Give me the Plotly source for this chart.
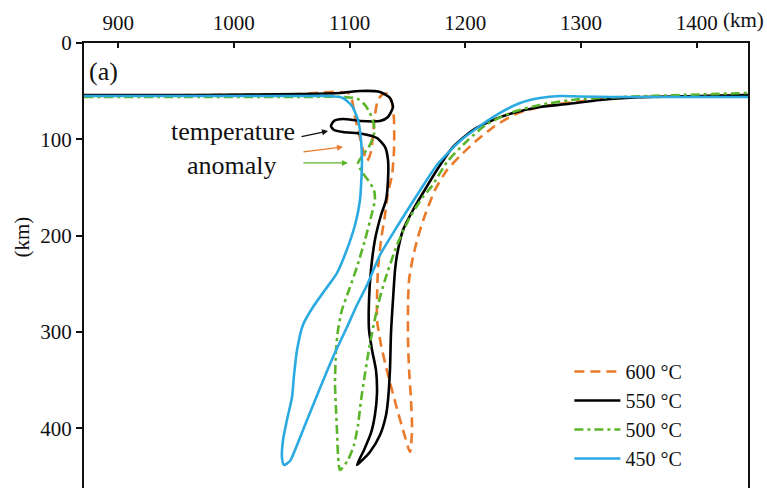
import plotly.graph_objects as go

# ---- data (x: horizontal distance in km, y: depth in km) ----
x_600 = [870.5, 970.7, 1057.2, 1083.1, 1098.6, 1102.1, 1103.8, 1107.3, 1111.6, 1115.1, 1118.5, 1120.2, 1121.9,
         1124.5, 1128.9, 1133.2, 1136.7, 1138.4, 1138.4, 1136.7, 1133.2, 1130.6, 1127.2, 1124.5, 1123.7, 1123.7,
         1127.2, 1133.2, 1140.1, 1146.2, 1152.2, 1154.0, 1153.1, 1151.4, 1150.5, 1150.5, 1151.4, 1154.8, 1159.1,
         1164.3, 1173.8, 1184.2, 1195.4, 1209.2, 1225.6, 1245.5, 1268.9, 1294.8, 1327.6, 1359.6, 1402.8, 1444.3]
y_600 = [55.0, 54.0, 52.9, 50.8, 51.9, 59.1, 71.6, 90.3, 111.0, 122.4, 113.1, 95.5, 74.7,
         59.1, 52.9, 52.9, 62.3, 79.9, 111.0, 137.0, 155.7, 178.5, 204.4, 235.5, 266.7, 287.4,
         313.4, 344.5, 375.7, 401.6, 424.4, 401.6, 370.5, 339.3, 308.2, 271.9, 245.9, 222.1, 201.3,
         181.6, 152.5, 131.8, 117.3, 101.7, 86.1, 72.6, 65.4, 61.2, 57.1, 56.0, 55.0, 54.0]

x_550 = [870.5, 970.7, 1057.2, 1091.7, 1109.0, 1126.3, 1134.9, 1137.5, 1133.2, 1126.3, 1109.0, 1094.3, 1086.5,
         1083.9, 1086.5, 1094.3, 1111.6, 1123.7, 1130.6, 1133.2, 1133.2, 1131.5, 1127.2, 1121.9, 1118.5, 1116.8,
         1116.8, 1119.4, 1122.8, 1123.7, 1121.9, 1118.5, 1112.5, 1106.4, 1117.6, 1126.3, 1131.5, 1133.2, 1134.9,
         1135.8, 1137.5, 1139.3, 1141.0, 1146.2, 1154.8, 1163.4, 1175.5, 1189.4, 1206.7, 1223.9, 1241.2, 1264.5,
         1287.9, 1316.4, 1357.0, 1402.8, 1444.3]
y_550 = [54.0, 54.0, 52.9, 51.9, 49.8, 50.8, 57.1, 66.4, 76.8, 80.9, 80.9, 78.9, 80.9,
         86.1, 90.3, 92.4, 94.4, 98.6, 107.9, 121.4, 142.2, 162.9, 178.5, 204.4, 235.5, 266.7,
         297.8, 318.6, 339.3, 363.2, 386.0, 404.7, 422.3, 437.9, 424.4, 406.8, 386.0, 370.5, 339.3,
         300.9, 266.7, 235.5, 220.0, 194.0, 173.3, 155.7, 131.8, 107.9, 90.3, 79.9, 72.6, 66.4,
         63.3, 59.1, 56.0, 55.0, 54.0]

x_500 = [870.5, 970.7, 1057.2, 1096.0, 1107.3, 1113.3, 1117.6, 1121.1, 1121.1, 1117.6, 1111.6, 1107.3, 1110.7,
         1115.9, 1121.1, 1121.9, 1118.5, 1113.3, 1106.4, 1099.5, 1093.4, 1090.0, 1088.3, 1087.4, 1088.3, 1089.1,
         1091.7, 1098.6, 1103.8, 1107.3, 1109.9, 1112.5, 1115.9, 1119.4, 1124.5, 1130.6, 1141.0, 1152.2, 1163.4,
         1171.2, 1184.2, 1201.5, 1218.7, 1241.2, 1264.5, 1299.1, 1359.6, 1444.3]
y_500 = [56.0, 56.0, 56.0, 56.0, 58.1, 64.3, 72.6, 85.1, 94.4, 105.8, 116.2, 124.5, 133.9,
         142.2, 152.5, 162.9, 180.6, 204.4, 232.4, 256.3, 277.1, 297.8, 318.6, 352.8, 380.8, 401.6,
         443.1, 432.7, 417.2, 396.4, 370.5, 349.7, 323.8, 300.9, 271.9, 245.9, 209.6, 180.6, 159.8,
         148.4, 123.5, 101.7, 84.1, 71.6, 64.3, 58.1, 55.0, 51.9]

x_450 = [870.5, 970.7, 1057.2, 1083.1, 1094.3, 1102.1, 1107.3, 1109.9, 1110.7, 1109.0, 1104.7, 1096.9, 1089.1,
         1078.8, 1068.4, 1059.7, 1054.6, 1052.0, 1050.3, 1045.9, 1042.5, 1041.6, 1043.3, 1048.5, 1054.6, 1061.5,
         1072.7, 1085.7, 1097.8, 1106.4, 1115.1, 1126.3, 1141.9, 1160.0, 1175.5, 1195.4, 1212.7, 1230.0, 1247.3,
         1264.5, 1281.8, 1299.1, 1327.6, 1402.8, 1444.3]
y_450 = [55.0, 55.0, 55.0, 55.0, 57.1, 65.4, 79.9, 100.7, 124.5, 162.9, 188.9, 216.9, 238.7,
         256.3, 274.0, 292.6, 318.6, 344.5, 367.3, 391.2, 412.0, 430.6, 437.9, 433.8, 417.2, 396.4,
         363.2, 325.8, 294.7, 271.9, 251.1, 220.0, 188.9, 154.6, 126.6, 101.7, 86.1, 72.6, 62.3,
         57.1, 55.0, 55.5, 56.0, 56.0, 56.0]

series_names = ["600 °C", "550 °C", "500 °C", "450 °C"]
x_ticks = [900, 1000, 1100, 1200, 1300, 1400]
y_ticks = [0, 100, 200, 300, 400]

FONT = "Liberation Serif"
ORANGE = "#EA7A2A"
BLACK = "#000000"
GREEN = "#5BB52B"
BLUE = "#2BAAE2"

fig = go.Figure()
fig.add_trace(go.Scatter(x=x_600, y=y_600, mode="lines", name=series_names[0],
                         line=dict(color=ORANGE, width=2.6, dash="10px,6px", shape="spline", smoothing=0.6)))
fig.add_trace(go.Scatter(x=x_550, y=y_550, mode="lines", name=series_names[1],
                         line=dict(color=BLACK, width=2.6, shape="spline", smoothing=0.6)))
fig.add_trace(go.Scatter(x=x_500, y=y_500, mode="lines", name=series_names[2],
                         line=dict(color=GREEN, width=2.6, dash="9px,4px,3px,4px", shape="spline", smoothing=0.6)))
fig.add_trace(go.Scatter(x=x_450, y=y_450, mode="lines", name=series_names[3],
                         line=dict(color=BLUE, width=2.6, shape="spline", smoothing=0.6)))

ann = []
ann.append(dict(text="(a)", xref="paper", yref="paper", x=0.004, y=0.937, xanchor="left", yanchor="middle",
                showarrow=False, font=dict(family=FONT, size=26, color="#111")))
ann.append(dict(text="(km)", xref="paper", yref="paper", x=1.027, y=1, xanchor="right", yanchor="middle",
                yshift=23, showarrow=False, font=dict(family=FONT, size=21, color="#111")))
ann.append(dict(text="(km)", xref="paper", yref="paper", x=-0.094, y=0.564, xanchor="center", yanchor="middle",
                textangle=-90, showarrow=False, font=dict(family=FONT, size=21, color="#111")))
ann.append(dict(text="temperature", x=999.3, y=92.0, xanchor="center", yanchor="middle",
                showarrow=False, font=dict(family=FONT, size=26, color="#111")))
ann.append(dict(text="anomaly", x=998.8, y=127.0, xanchor="center", yanchor="middle",
                showarrow=False, font=dict(family=FONT, size=26, color="#111")))
ann.append(dict(text="", x=1081.4, y=91.3, ax=-28, ay=6, showarrow=True, arrowhead=2, arrowsize=1,
                arrowwidth=1.2, arrowcolor="#111"))
ann.append(dict(text="", x=1094.3, y=107.9, ax=-41, ay=5, showarrow=True, arrowhead=2, arrowsize=1,
                arrowwidth=1.2, arrowcolor=ORANGE))
ann.append(dict(text="", x=1098.6, y=124.5, ax=-46, ay=0, showarrow=True, arrowhead=2, arrowsize=1,
                arrowwidth=1.2, arrowcolor=GREEN))

fig.update_layout(
    width=767, height=488,
    margin=dict(l=84, r=19, t=43, b=0),
    paper_bgcolor="white", plot_bgcolor="white",
    font=dict(family=FONT, size=21, color="#111"),
    showlegend=True,
    legend=dict(x=0.731, y=0.3056, xanchor="left", yanchor="top", bgcolor="rgba(0,0,0,0)",
                font=dict(family=FONT, size=20, color="#111"), itemwidth=46, tracegroupgap=0),
    annotations=ann,
    xaxis=dict(side="top", range=[870.5, 1444.3], tickvals=x_ticks, ticks="inside", ticklen=5, tickwidth=2,
               tickcolor="#111", showline=True, linewidth=2, linecolor="#111", showgrid=False, zeroline=False,
               ticklabelstandoff=3, tickfont=dict(family=FONT, size=21, color="#111")),
    yaxis=dict(range=[461.8, 0], tickvals=y_ticks, ticks="outside", ticklen=6, tickwidth=2, tickcolor="#111",
               showline=True, linewidth=2, linecolor="#111", mirror=True, showgrid=False, zeroline=False,
               tickfont=dict(family=FONT, size=21, color="#111")),
)

fig.write_html("out.html")
